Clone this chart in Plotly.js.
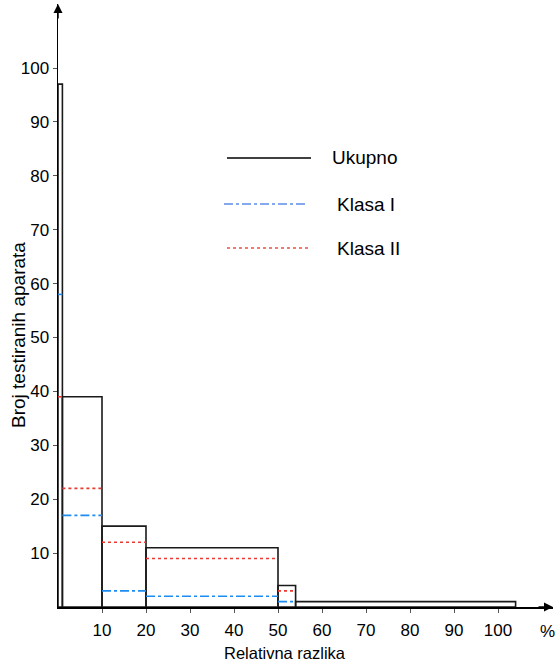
<!DOCTYPE html>
<html>
<head>
<meta charset="utf-8">
<script src="https://cdn.plot.ly/plotly-3.0.1.min.js"></script>
<style>html,body{margin:0;padding:0;background:#fff;}#chart{width:557px;height:664px;}</style>
</head>
<body>
<div id="chart"></div>
<script>
// ---- data ----
var binEdges = [0, 1, 10, 20, 50, 54, 104];      // relative difference, %
var ukupno   = [97, 39, 15, 11, 4, 1];           // total
var klasaI   = [58, 17, 3, 2, 1, null];          // class I
var klasaII  = [39, 22, 12, 9, 3, null];         // class II
var tickVals = [10, 20, 30, 40, 50, 60, 70, 80, 90, 100];
var seriesNames = ['Ukupno', 'Klasa I', 'Klasa II'];

// ---- layout geometry ----
var W = 557, H = 664;
var M = {l: 58, r: 4, t: 4, b: 57};
var pw = W - M.l - M.r, ph = H - M.t - M.b;
function px(x) { return (x - M.l) / pw; }
function py(y) { return (H - M.b - y) / ph; }

var FONT = '"Liberation Sans", Arial, sans-serif';
var BLUE = 'rgb(30,140,240)';
var RED = 'rgb(232,58,48)';
var LBLUE = 'rgb(95,140,230)';
var LRED = 'rgb(235,80,70)';

var centers = [], widths = [];
for (var i = 0; i < ukupno.length; i++) {
  centers.push((binEdges[i] + binEdges[i + 1]) / 2);
  widths.push(binEdges[i + 1] - binEdges[i]);
}
function segments(vals) {
  var xs = [], ys = [];
  for (var i = 0; i < vals.length; i++) {
    if (vals[i] === null) continue;
    xs.push(binEdges[i], binEdges[i + 1], null);
    ys.push(vals[i], vals[i], null);
  }
  return {x: xs, y: ys};
}
var sI = segments(klasaI), sII = segments(klasaII);

var traces = [
  {type: 'bar', name: seriesNames[0], x: centers, y: ukupno, width: widths,
   marker: {color: 'rgba(0,0,0,0)', line: {color: '#1a1a1a', width: 1.6}},
   showlegend: false, hoverinfo: 'x+y'},
  {type: 'scatter', mode: 'lines', name: seriesNames[2], x: sII.x, y: sII.y,
   line: {color: RED, width: 1.6, dash: 'dot'}, showlegend: false, connectgaps: false},
  {type: 'scatter', mode: 'lines', name: seriesNames[1], x: sI.x, y: sI.y,
   line: {color: BLUE, width: 1.6, dash: 'dashdot'}, showlegend: false, connectgaps: false}
];

var legendRows = [
  {name: seriesNames[0], y: 158, x0: 227, x1: 311, tx: 330, color: '#000', dash: 'solid'},
  {name: seriesNames[1], y: 204, x0: 224, x1: 308, tx: 335, color: LBLUE, dash: 'dashdot'},
  {name: seriesNames[2], y: 248, x0: 227, x1: 308, tx: 335, color: LRED, dash: 'dot'}
];
var shapes = [], annotations = [];
legendRows.forEach(function (r) {
  shapes.push({type: 'line', xref: 'paper', yref: 'paper',
    x0: px(r.x0), x1: px(r.x1), y0: py(r.y), y1: py(r.y),
    line: {color: r.color, width: 1.4, dash: r.dash}});
  annotations.push({xref: 'paper', yref: 'paper', x: px(r.tx), y: py(r.y),
    xanchor: 'left', yanchor: 'middle', showarrow: false, text: r.name,
    font: {family: FONT, size: 19, color: '#000'}});
});
// axis arrows
annotations.push({xref: 'paper', yref: 'paper', x: 0, y: 1, ax: 0, ay: 16, text: '',
  showarrow: true, arrowhead: 2, arrowsize: 1.2, arrowwidth: 1.5, arrowcolor: '#000'});
annotations.push({xref: 'paper', yref: 'paper', x: 1, y: 0, ax: -16, ay: 0, text: '',
  showarrow: true, arrowhead: 2, arrowsize: 1.2, arrowwidth: 1.5, arrowcolor: '#000'});
// unit and axis titles
annotations.push({xref: 'paper', yref: 'paper', x: px(547), y: py(631), text: '%',
  showarrow: false, xanchor: 'center', yanchor: 'middle', font: {family: FONT, size: 17, color: '#000'}});
annotations.push({xref: 'paper', yref: 'paper', x: px(284.5), y: py(653), text: 'Relativna razlika',
  showarrow: false, xanchor: 'center', yanchor: 'middle', font: {family: FONT, size: 16.5, color: '#000'}});
annotations.push({xref: 'paper', yref: 'paper', x: px(18), y: py(335), text: 'Broj testiranih aparata',
  textangle: -90, showarrow: false, xanchor: 'center', yanchor: 'middle', font: {family: FONT, size: 19, color: '#000'}});

var layout = {
  width: W, height: H,
  margin: M,
  paper_bgcolor: '#fff', plot_bgcolor: '#fff',
  showlegend: false,
  bargap: 0,
  font: {family: FONT, size: 17, color: '#000'},
  xaxis: {range: [0, pw / 4.4], tickvals: tickVals, ticktext: tickVals.map(String),
    showgrid: false, zeroline: false, showline: true, linecolor: '#000', linewidth: 1.5,
    ticks: 'outside', ticklen: 4, tickcolor: '#555', tickwidth: 1, ticklabelstandoff: 3,
    tickfont: {family: FONT, size: 17, color: '#000'}, fixedrange: true},
  yaxis: {range: [0, ph / 5.39], tickvals: tickVals, ticktext: tickVals.map(String),
    showgrid: false, zeroline: false, showline: true, linecolor: '#000', linewidth: 1.5,
    ticks: 'outside', ticklen: 4, tickcolor: '#555', tickwidth: 1,
    tickfont: {family: FONT, size: 17, color: '#000'}, fixedrange: true},
  shapes: shapes,
  annotations: annotations
};

Plotly.newPlot('chart', traces, layout, {displayModeBar: false, staticPlot: true});
</script>
</body>
</html>
